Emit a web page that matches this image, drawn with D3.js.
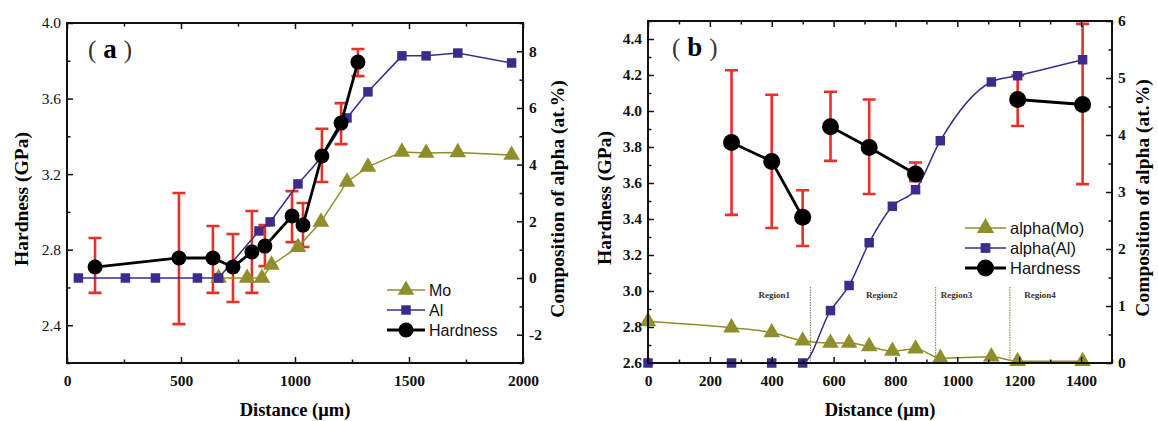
<!DOCTYPE html>
<html>
<head>
<meta charset="utf-8">
<script src="https://cdn.jsdelivr.net/npm/d3@7"></script>
<style>
  body { margin: 0; background: #fff; }
  svg { display: block; }
</style>
</head>
<body>
<div id="chart"></div>
<script>
// ---- panel (a) ----
let aDistMo = [665, 790, 855, 897, 1013, 1114, 1228, 1320, 1469, 1575, 1714, 1950]
let aMo     = [0, 0, 0, 0.46, 1.09, 1.98, 3.39, 3.92, 4.45, 4.41, 4.43, 4.34]
let aDistAl = [50, 256, 388, 572, 665, 842, 891, 1013, 1118, 1228, 1320, 1469, 1575, 1714, 1950]
let aAl     = [0, 0, 0, 0, 0, 1.66, 1.98, 3.32, 4.27, 5.65, 6.57, 7.84, 7.84, 7.94, 7.59]
let aDistH  = [123, 491, 640, 728, 811, 868, 987, 1035, 1118, 1202, 1276]
let aH      = [2.708, 2.756, 2.756, 2.708, 2.788, 2.819, 2.978, 2.93, 3.296, 3.47, 3.793]
let aHHigh  = [2.862, 3.10, 2.925, 2.883, 3.005, 2.93, 3.11, 3.047, 3.44, 3.576, 3.862]
let aHLow   = [2.571, 2.406, 2.571, 2.523, 2.571, 2.713, 2.84, 2.814, 3.158, 3.359, 3.719]
let aLegend = ['Mo', 'Al', 'Hardness']

// ---- panel (b) ----
let bDist  = [0, 270, 400, 500, 590, 650, 715, 790, 865, 945, 1110, 1195, 1405]
let bMo    = [0.73, 0.62, 0.535, 0.39, 0.35, 0.35, 0.29, 0.21, 0.25, 0.085, 0.11, 0.03, 0.03]
let bAl    = [0, 0, 0, 0, 0.92, 1.36, 2.11, 2.75, 3.04, 3.90, 4.93, 5.04, 5.32]
let bDistH = [270, 400, 500, 590, 715, 865, 1195, 1405]
let bH     = [3.825, 3.72, 3.41, 3.913, 3.797, 3.65, 4.064, 4.036]
let bHHigh = [4.226, 4.09, 3.56, 4.107, 4.064, 3.714, 4.197, 4.484]
let bHLow  = [3.423, 3.35, 3.25, 3.723, 3.539, 3.61, 3.917, 3.594]
let bHGroup = [1, 1, 1, 2, 2, 2, 3, 3]
let bRegionEdges = [525, 930, 1170]
let bRegionNames = ['Region1', 'Region2', 'Region3', 'Region4']
let bRegionCenters = [408, 756, 997, 1267]
let bLegend = ['alpha(Mo)', 'alpha(Al)', 'Hardness']

let moColor = '#8e8e2c'
let alColor = '#3c2a8c'
let errColor = '#e2332b'
let serif = '"Liberation Serif", "Times New Roman", serif'
let sans = '"Liberation Sans", Arial, sans-serif'

const svg = d3.select('#chart').append('svg')
    .attr('width', 1158)
    .attr('height', 421)
    .style('background', '#fff')

function range(a, b, step) {
    return d3.range(a, b + step / 2, step).map(v => +v.toFixed(4))
}

function drawAxes(g, x, yL, yR, o) {
    let [x0, x1] = x.range()
    let [y1, y0] = yL.range()
    let tickFont = weight => sel => sel.selectAll('text')
        .attr('font-family', serif).attr('font-weight', weight)
        .attr('font-size', 15.5).attr('fill', '#111')
    let clean = sel => { sel.select('.domain').remove(); sel.selectAll('line').attr('stroke', '#111').attr('stroke-width', 1.5) }

    // bottom
    g.append('g').attr('transform', `translate(0,${y1})`)
        .call(d3.axisBottom(x).tickValues(o.xMinor).tickSize(-3.5).tickFormat(''))
        .call(clean)
    g.append('g').attr('transform', `translate(0,${y1})`)
        .call(d3.axisBottom(x).tickValues(o.xMajor).tickSize(-6).tickPadding(12).tickFormat(d => d))
        .call(clean).call(tickFont('bold'))
    // top
    g.append('g').attr('transform', `translate(0,${y0})`)
        .call(d3.axisTop(x).tickValues(o.xMinor).tickSize(-3.5).tickFormat(''))
        .call(clean)
    g.append('g').attr('transform', `translate(0,${y0})`)
        .call(d3.axisTop(x).tickValues(o.xMajor).tickSize(-6).tickFormat(''))
        .call(clean)
    // left
    g.append('g').attr('transform', `translate(${x0},0)`)
        .call(d3.axisLeft(yL).tickValues(o.lMinor).tickSize(-3.5).tickFormat(''))
        .call(clean)
    g.append('g').attr('transform', `translate(${x0},0)`)
        .call(d3.axisLeft(yL).tickValues(o.lMajor).tickSize(-6).tickPadding(6).tickFormat(d3.format('.1f')))
        .call(clean).call(tickFont(o.leftWeight))
    // right
    g.append('g').attr('transform', `translate(${x1},0)`)
        .call(d3.axisRight(yR).tickValues(o.rMinor).tickSize(-3.5).tickFormat(''))
        .call(clean)
    g.append('g').attr('transform', `translate(${x1},0)`)
        .call(d3.axisRight(yR).tickValues(o.rMajor).tickSize(-6).tickPadding(6).tickFormat(d => String(d)))
        .call(clean).call(tickFont('bold'))

    g.append('rect')
        .attr('x', x0).attr('y', y0)
        .attr('width', x1 - x0).attr('height', y1 - y0)
        .attr('fill', 'none').attr('stroke', '#111').attr('stroke-width', 2)

    // titles
    g.append('text')
        .attr('transform', `translate(${o.leftTitleX},${(y0 + y1) / 2 + 6}) rotate(-90)`)
        .attr('text-anchor', 'middle').attr('dy', '0.35em')
        .attr('font-family', serif).attr('font-weight', 'bold').attr('font-size', 19.5)
        .text('Hardness (GPa)')
    g.append('text')
        .attr('transform', `translate(${o.rightTitleX},${(y0 + y1) / 2 + 6}) rotate(-90)`)
        .attr('text-anchor', 'middle').attr('dy', '0.35em')
        .attr('font-family', serif).attr('font-weight', 'bold').attr('font-size', 19.5)
        .text('Composition of alpha (at.%)')
    g.append('text')
        .attr('x', (x0 + x1) / 2).attr('y', 416)
        .attr('text-anchor', 'middle')
        .attr('font-family', serif).attr('font-weight', 'bold').attr('font-size', 18.5)
        .text('Distance (μm)')

    // panel letter
    let t = g.append('text')
        .attr('x', x0 + o.letterDx).attr('y', y0 + 35)
        .attr('font-family', serif).attr('font-size', 25)
    t.append('tspan').attr('font-weight', 300).attr('fill', '#333').text('(')
    t.append('tspan').attr('dx', 7).attr('font-weight', 'bold').attr('font-size', 27).text(o.letter)
    t.append('tspan').attr('dx', 7).attr('fill', '#333').text(')')
}

let tri = size => d3.symbol(d3.symbolTriangle, size)()
let sq = size => d3.symbol(d3.symbolSquare, size)()

function drawSeries(g, xs, ys, x, y, color, marker, curve) {
    let pts = xs.map((d, i) => [x(d), y(ys[i])])
    g.append('path')
        .attr('d', d3.line().curve(curve)(pts))
        .attr('fill', 'none').attr('stroke', color).attr('stroke-width', 1.5)
    g.selectAll(null).data(pts).join('path')
        .attr('transform', d => `translate(${d[0]},${d[1]})`)
        .attr('d', marker)
        .attr('fill', color)
}

function drawErrors(g, xs, hi, lo, x, y, cap) {
    g.selectAll(null).data(xs).join('path')
        .attr('d', (d, i) => {
            let cx = x(d), t = y(hi[i]), b = y(lo[i])
            return `M${cx},${t}V${b}M${cx - cap / 2},${t}H${cx + cap / 2}M${cx - cap / 2},${b}H${cx + cap / 2}`
        })
        .attr('fill', 'none').attr('stroke', errColor).attr('stroke-width', 2.6)
}

function drawHardness(g, xs, ys, x, y, r, groups) {
    let pts = xs.map((d, i) => ({ p: [x(d), y(ys[i])], grp: groups ? groups[i] : 0 }))
    let grouped = d3.groups(pts, d => d.grp)
    grouped.forEach(([k, arr]) => {
        g.append('path')
            .attr('d', d3.line()(arr.map(d => d.p)))
            .attr('fill', 'none').attr('stroke', '#000').attr('stroke-width', 2.8)
    })
    g.selectAll(null).data(pts).join('circle')
        .attr('cx', d => d.p[0]).attr('cy', d => d.p[1]).attr('r', r)
        .attr('fill', '#000')
}

function drawLegend(g, lx, rows, names, sizes, fontSize) {
    let items = [
        { color: moColor, marker: tri(sizes.tri), w: 1.5 },
        { color: alColor, marker: sq(sizes.sq), w: 1.5 },
        { color: '#000', marker: null, w: 2.8 }
    ]
    items.forEach((it, i) => {
        let yy = rows[i]
        g.append('line').attr('x1', lx).attr('x2', lx + sizes.len).attr('y1', yy).attr('y2', yy)
            .attr('stroke', it.color).attr('stroke-width', it.w)
        if (it.marker) {
            g.append('path').attr('transform', `translate(${lx + sizes.len / 2},${yy})`)
                .attr('d', it.marker).attr('fill', it.color)
        } else {
            g.append('circle').attr('cx', lx + sizes.len / 2).attr('cy', yy).attr('r', sizes.r).attr('fill', '#000')
        }
        g.append('text')
            .attr('x', lx + sizes.len + 4).attr('y', yy)
            .attr('dy', '0.36em')
            .attr('font-family', sans).attr('font-size', fontSize).attr('fill', '#111')
            .text(names[i])
    })
}

// ---------- panel (a) ----------
{
    let x = d3.scaleLinear().domain([0, 2000]).range([67, 523])
    let yL = d3.scaleLinear().domain([2.2, 4.0]).range([363, 23])
    let yR = d3.scaleLinear().domain([-3, 9]).range([363, 23])
    let g = svg.append('g')

    drawErrors(g, aDistH, aHHigh, aHLow, x, yL, 13)
    drawSeries(g, aDistMo, aMo, x, yR, moColor, tri(120), d3.curveLinear)
    drawSeries(g, aDistAl, aAl, x, yR, alColor, sq(90), d3.curveLinear)
    drawHardness(g, aDistH, aH, x, yL, 7.5, null)

    drawAxes(g, x, yL, yR, {
        xMajor: range(0, 2000, 500), xMinor: range(250, 1750, 500),
        lMajor: range(2.4, 4.0, 0.4), lMinor: range(2.2, 3.8, 0.4),
        rMajor: range(-2, 8, 2), rMinor: range(-3, 9, 2),
        leftTitleX: 21, rightTitleX: 557, letter: 'a', letterDx: 21, leftWeight: 'normal'
    })
    drawLegend(g, 387, [290, 310, 330], aLegend, { tri: 120, sq: 90, r: 7.5, len: 38 }, 16)
}

// ---------- panel (b) ----------
{
    let x = d3.scaleLinear().domain([0, 1500]).range([648, 1112])
    let yL = d3.scaleLinear().domain([2.6, 4.5]).range([363, 21])
    let yR = d3.scaleLinear().domain([0, 6]).range([363, 21])
    let g = svg.append('g')

    // region dividers
    g.selectAll(null).data(bRegionEdges).join('line')
        .attr('x1', d => x(d)).attr('x2', d => x(d))
        .attr('y1', 287).attr('y2', 363)
        .attr('stroke', '#8a7260').attr('stroke-width', 1).attr('stroke-dasharray', '1.5,1')
    g.selectAll(null).data(bRegionNames).join('text')
        .attr('x', (d, i) => x(bRegionCenters[i])).attr('y', 298)
        .attr('text-anchor', 'middle')
        .attr('font-family', serif).attr('font-weight', 'bold').attr('font-size', 9).attr('fill', '#333')
        .text(d => d)

    drawErrors(g, bDistH, bHHigh, bHLow, x, yL, 13)
    drawSeries(g, bDist, bMo, x, yR, moColor, tri(120), d3.curveMonotoneX)
    drawSeries(g, bDist, bAl, x, yR, alColor, sq(90), d3.curveMonotoneX)
    drawHardness(g, bDistH, bH, x, yL, 8.5, bHGroup)

    drawAxes(g, x, yL, yR, {
        xMajor: range(0, 1400, 200), xMinor: range(100, 1500, 200),
        lMajor: range(2.6, 4.4, 0.2), lMinor: range(2.7, 4.5, 0.2),
        rMajor: range(0, 6, 1), rMinor: range(0.5, 5.5, 1),
        leftTitleX: 604, rightTitleX: 1142, letter: 'b', letterDx: 24, leftWeight: 'bold'
    })
    drawLegend(g, 965, [228, 248, 268], bLegend, { tri: 130, sq: 95, r: 8.5, len: 41 }, 16.5)
}
</script>
</body>
</html>
